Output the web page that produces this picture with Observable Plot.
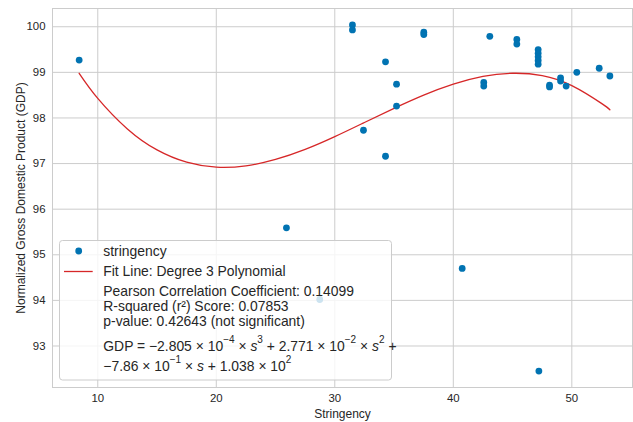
<!DOCTYPE html>
<html>
<head>
<meta charset="utf-8">
<script src="https://cdn.jsdelivr.net/npm/d3@7"></script>
<script src="https://cdn.jsdelivr.net/npm/@observablehq/plot@0.6"></script>
<style>
  html, body { margin: 0; padding: 0; background: #ffffff; }
</style>
</head>
<body>
<div id="chart"></div>
<script>
// ---- data ----
const stringency = [8.43, 31.49, 31.49, 37.51, 37.51, 34.28, 35.21, 35.21, 32.42, 34.28,
  25.92, 28.73, 40.75, 47.22, 43.08, 45.36, 45.36, 47.16, 47.16, 47.16, 47.16, 47.16,
  42.57, 42.57, 48.12, 48.12, 49.05, 49.05, 49.52, 50.42, 52.31, 53.21];
const gdp = [99.27, 100.04, 99.93, 99.88, 99.83, 99.23, 98.74, 98.26, 97.73, 97.16,
  95.59, 94.02, 94.70, 92.45, 99.79, 99.72, 99.62, 99.50, 99.42, 99.34, 99.26, 99.18,
  98.78, 98.70, 98.72, 98.68, 98.88, 98.81, 98.70, 99.00, 99.09, 98.92];

// fitted degree-3 curve, sampled along the drawn red line
const fitS = [8.43, 10, 12.5, 15, 17.5, 20, 22.5, 25, 27.5, 30, 32.5, 35, 37.5, 40, 42.5, 45, 47.5, 50, 52.5, 53.21];
const fitGdp = [98.98, 98.43, 97.76, 97.30, 97.03, 96.92, 96.95, 97.09, 97.31, 97.59, 97.90, 98.21, 98.50, 98.74, 98.91, 98.98, 98.93, 98.71, 98.32, 98.18];

const xTicks = [10, 20, 30, 40, 50];
const yTicks = [93, 94, 95, 96, 97, 98, 99, 100];

const xLabel = "Stringency";
const yLabel = "Normalized Gross Domestic Product (GDP)";
const seriesLabel = "stringency";
const fitLabel = "Fit Line: Degree 3 Polynomial";
const statLines = [
  "Pearson Correlation Coefficient: 0.14099",
  "R-squared (r\u00B2) Score: 0.07853",
  "p-value: 0.42643 (not significant)"
];

// ---- build tables ----
const points = stringency.map((s, i) => ({s, g: gdp[i]}));
const fit = fitS.map((s, i) => ({s, g: fitGdp[i]}));

const BLUE = "#0173b2";
const RED = "#d62728";
const GRID = "#cccccc";

const chart = Plot.plot({
  width: 633,
  height: 422,
  marginLeft: 52,
  marginRight: 1,
  marginTop: 8,
  marginBottom: 35,
  style: {fontFamily: "'Liberation Sans', Arial, sans-serif", fontSize: "11.4px", color: "#262626", background: "#ffffff"},
  x: {domain: [6.18, 55.12]},
  y: {domain: [92.09, 100.40]},
  marks: [
    Plot.gridX(xTicks, {stroke: GRID, strokeOpacity: 1, strokeWidth: 1}),
    Plot.gridY(yTicks, {stroke: GRID, strokeOpacity: 1, strokeWidth: 1}),
    Plot.frame({stroke: GRID, strokeWidth: 1}),
    Plot.axisX(xTicks, {tickSize: 0, tickPadding: 6.5, fontSize: 11.4, label: null}),
    Plot.axisX({tickSize: 0, ticks: [], fontSize: 12, label: xLabel, labelAnchor: "center", labelArrow: "none", labelOffset: 30}),
    Plot.axisY(yTicks, {tickSize: 0, tickPadding: 7, fontSize: 11.4, label: null}),
    Plot.axisY({tickSize: 0, ticks: [], fontSize: 12, label: yLabel, labelAnchor: "center", labelArrow: "none", labelOffset: 36}),
    Plot.line(fit, {x: "s", y: "g", stroke: RED, strokeWidth: 1.3, curve: "natural"}),
    Plot.dot(points, {x: "s", y: "g", r: 3.4, fill: BLUE, stroke: "none"})
  ]
});

document.getElementById("chart").appendChild(chart);

// ---- legend box (matplotlib-style, semi-transparent) ----
const svg = d3.select(chart);
const lg = svg.append("g")
  .attr("font-family", "'Liberation Sans', Arial, sans-serif")
  .attr("font-size", 13.9)
  .attr("text-anchor", "start")
  .attr("fill", "#262626");
lg.append("rect")
  .attr("x", 59.5).attr("y", 240.5).attr("width", 332).attr("height", 139.5)
  .attr("rx", 3).attr("fill", "#ffffff").attr("fill-opacity", 0.8)
  .attr("stroke", GRID).attr("stroke-width", 1);
lg.append("circle").attr("cx", 78.7).attr("cy", 251).attr("r", 3.4).attr("fill", BLUE);
lg.append("line").attr("x1", 64).attr("x2", 92.7).attr("y1", 271.5).attr("y2", 271.5)
  .attr("stroke", RED).attr("stroke-width", 1.3);
lg.append("text").attr("x", 103.3).attr("y", 256).text(seriesLabel);
lg.append("text").attr("x", 103.3).attr("y", 276.3).text(fitLabel);
statLines.forEach((t, i) => {
  lg.append("text").attr("x", 103.3).attr("y", 296 + i * 15).text(t);
});

// equation lines with superscripts
function eqLine(y, parts) {
  const t = lg.append("text").attr("x", 103.3).attr("y", y);
  parts.forEach(p => {
    const ts = t.append("tspan").text(p.t);
    if (p.sup) ts.attr("font-size", 10).attr("dy", -8);
    if (p.down) ts.attr("dy", 8);
    if (p.it) ts.attr("font-style", "italic");
  });
  return t;
}
eqLine(350.7, [
  {t: "GDP = \u22122.805 \u00D7 10"}, {t: "\u22124", sup: true},
  {t: " \u00D7 ", down: true}, {t: "s", it: true}, {t: "3", sup: true},
  {t: " + 2.771 \u00D7 10", down: true}, {t: "\u22122", sup: true},
  {t: " \u00D7 ", down: true}, {t: "s", it: true}, {t: "2", sup: true},
  {t: " +", down: true}
]);
eqLine(371, [
  {t: "\u22127.86 \u00D7 10"}, {t: "\u22121", sup: true},
  {t: " \u00D7 ", down: true}, {t: "s", it: true}, {t: " + 1.038 \u00D7 10"}, {t: "2", sup: true}
]);
</script>
</body>
</html>
